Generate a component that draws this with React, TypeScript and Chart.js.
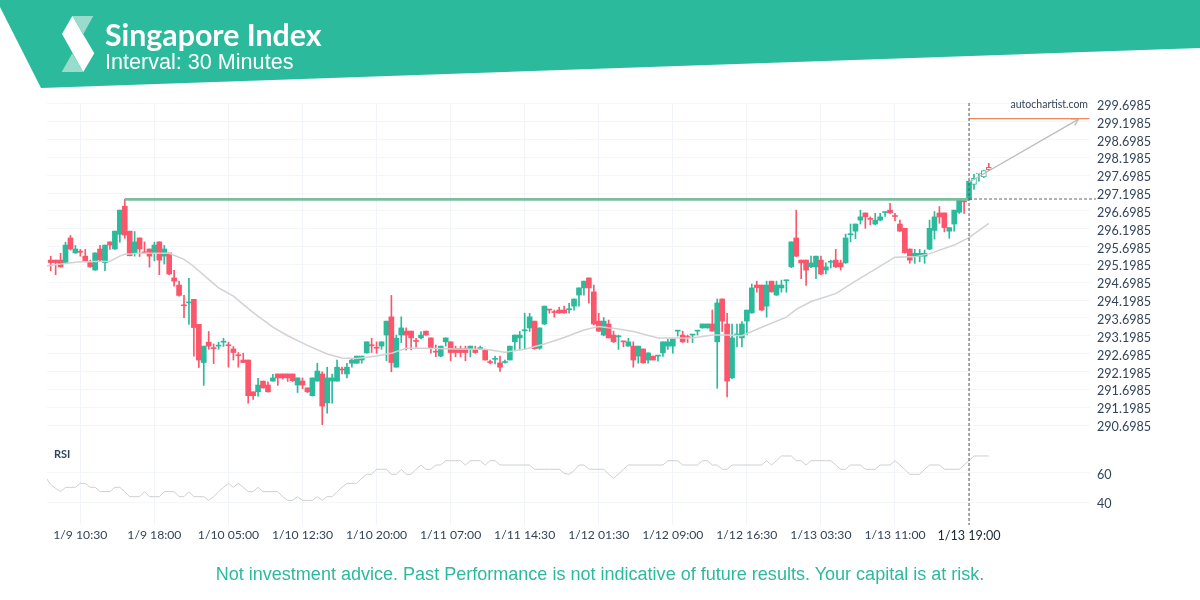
import { useEffect, useRef } from 'react';
import { Chart, registerables } from 'chart.js';

Chart.register(...registerables);

const opens = [
  295.32,295.32,295.32,295.25,295.94,295.52,295.56,295.43,295.25,295.04,
  295.63,295.25,295.83,295.63,296.04,296.83,296.13,295.51,295.94,295.55,
  295.63,295.52,295.83,295.43,295.52,294.82,294.62,294.06,294.12,294.22,
  293.52,292.45,293.02,292.86,292.91,293.02,292.94,292.83,292.66,292.52,
  292.52,291.63,291.63,291.93,291.82,291.93,292.13,292.13,292.13,292.13,
  291.82,291.93,291.74,291.52,291.93,292.13,291.32,291.93,291.93,292.26,
  292.13,292.43,292.43,292.52,292.72,292.94,292.87,292.91,293.22,293.73,
  292.32,293.22,293.33,293.33,293.06,293.14,293.33,293.14,292.75,292.63,
  293.03,293.03,292.84,292.84,292.84,292.84,292.81,292.84,292.81,292.47,
  292.54,292.44,292.45,292.52,293.03,293.14,293.34,293.42,293.61,292.85,
  293.53,293.94,293.87,293.92,293.92,293.93,294.03,294.34,294.54,294.82,
  294.43,293.61,293.22,293.53,293.22,293.17,293.04,292.91,292.91,292.63,
  292.83,292.52,292.63,292.63,292.72,292.91,292.91,293.33,293.22,293.17,
  293.22,293.33,293.42,293.42,293.53,293.03,294.23,293.53,292.02,293.22,
  293.14,293.61,293.84,294.62,294.62,294.03,294.73,294.34,294.54,294.74,
  295.13,295.94,295.32,295.32,295.13,295.13,295.32,295.04,295.26,295.32,
  295.24,295.24,296.03,296.13,296.44,296.64,296.48,296.33,296.44,296.65,
  296.72,296.55,296.33,296.21,295.63,295.43,295.43,295.43,295.63,296.15,
  296.64,296.64,296.13,296.33,296.66,296.97,297.01,297.44,297.73,297.65,297.92,
];
const closes = [
  295.25,295.25,295.13,295.74,295.63,295.63,295.54,295.28,295.13,295.52,
  295.32,295.74,295.74,296.13,296.72,296.02,295.44,295.83,295.63,295.52,
  295.43,295.74,295.32,295.63,294.93,294.73,294.33,294.04,294.14,293.43,
  292.52,292.91,292.91,292.84,292.93,293.04,292.92,292.73,292.64,292.45,
  291.52,291.52,291.82,291.74,291.63,292.02,292.02,292.02,292.02,291.94,
  292.02,291.82,291.63,292.02,292.21,291.23,292.02,292.02,292.32,292.24,
  292.32,292.52,292.63,292.63,293.03,292.92,292.85,293.03,293.61,292.45,
  293.13,293.42,293.22,293.14,293.04,293.22,293.22,292.84,292.74,292.91,
  293.14,292.73,292.73,292.73,292.73,292.91,292.73,292.86,292.52,292.45,
  292.56,292.32,292.47,292.91,293.22,293.22,293.36,293.73,292.84,293.42,
  294.03,293.92,293.85,293.84,293.84,293.95,294.23,294.54,294.73,294.54,
  293.53,293.33,293.61,293.14,293.03,293.18,293.03,293.03,292.52,292.91,
  292.44,292.72,292.52,292.65,293.03,293.03,293.11,293.35,293.03,293.15,
  293.24,293.35,293.53,293.53,293.33,294.12,293.61,291.93,293.14,293.24,
  293.53,293.92,294.54,294.55,293.92,294.62,294.43,294.62,294.62,294.76,
  295.83,295.43,295.24,295.04,295.24,295.43,294.93,295.13,295.28,295.13,
  295.13,295.94,296.05,296.33,296.53,296.53,296.46,296.44,296.53,296.67,
  296.64,296.54,296.13,295.53,295.32,295.51,295.51,295.51,296.21,296.53,
  296.53,296.23,296.23,296.72,297.03,296.95,297.53,297.61,297.75,297.83,297.85,
];
const highs = [
  295.43,295.32,295.51,295.82,296.01,295.73,295.62,295.62,295.32,295.52,
  295.73,295.74,295.83,296.13,296.72,297.02,296.13,296.12,295.94,295.83,
  295.63,295.82,295.83,295.73,295.52,295.03,294.73,294.33,294.81,294.22,
  293.52,292.91,293.32,292.97,293.02,293.13,293.02,292.90,292.73,292.71,
  292.52,291.63,292.01,291.93,291.91,292.12,292.13,292.13,292.13,292.13,
  292.02,292.02,291.74,292.02,292.43,292.19,292.32,292.13,292.52,292.32,
  292.43,292.54,292.63,292.63,293.03,293.13,293.03,293.03,293.61,294.33,
  293.22,293.73,293.42,293.33,293.13,293.32,293.33,293.14,292.94,292.91,
  293.14,293.03,292.91,292.91,292.91,292.91,292.91,292.91,292.82,292.52,
  292.63,292.63,292.52,292.91,293.22,293.32,293.83,293.83,293.61,293.42,
  294.03,293.94,293.92,294.00,294.03,294.11,294.23,294.54,294.73,294.82,
  294.62,293.83,293.71,293.64,293.33,293.22,293.04,293.13,293.03,292.91,
  292.83,292.72,292.63,292.65,293.03,293.11,293.11,293.35,293.33,293.22,
  293.24,293.35,293.53,293.53,293.92,294.23,294.23,293.83,293.53,293.53,
  293.60,293.92,294.65,294.73,294.62,294.73,294.73,294.73,294.76,294.76,
  295.83,296.72,295.32,295.32,295.43,295.43,295.43,295.24,295.32,295.62,
  295.32,296.05,296.33,296.33,296.72,296.64,296.53,296.63,296.63,296.67,
  296.91,296.63,296.44,296.21,295.63,295.62,295.62,295.60,296.44,296.68,
  296.82,296.64,296.23,296.72,297.03,297.03,297.53,297.72,297.75,297.83,298.03,
];
const lows = [
  295.02,294.91,295.12,295.23,295.60,295.51,295.43,295.27,295.12,295.04,
  295.30,295.02,295.62,295.62,295.82,295.93,295.44,295.43,295.42,295.51,
  295.12,295.30,294.91,295.21,294.91,294.59,294.31,293.71,293.52,292.63,
  292.31,291.81,292.82,292.42,292.82,292.90,292.32,292.52,292.32,292.45,
  291.31,291.42,291.51,291.73,291.62,291.93,291.81,291.99,291.92,291.92,
  291.61,291.72,291.61,291.51,291.93,290.71,291.03,291.31,291.93,292.13,
  292.02,292.32,292.43,292.43,292.71,292.73,292.71,292.82,292.50,292.19,
  292.32,293.01,292.80,292.80,292.88,293.11,293.21,292.71,292.61,292.61,
  292.91,292.50,292.61,292.61,292.50,292.61,292.71,292.82,292.52,292.41,
  292.41,292.20,292.43,292.52,292.80,292.82,292.82,293.32,292.82,292.82,
  293.51,293.83,293.72,293.83,293.83,293.83,293.92,294.03,294.34,294.11,
  293.50,293.32,293.20,293.14,293.01,292.82,292.89,292.91,292.32,292.43,
  292.43,292.43,292.52,292.49,292.62,292.82,292.71,293.19,293.01,293.01,
  293.01,293.22,293.41,293.41,293.33,291.73,293.32,291.49,292.00,292.89,
  292.89,293.22,293.83,294.42,293.90,293.72,294.42,294.33,294.42,294.42,
  295.11,295.42,294.80,294.61,295.11,294.80,294.91,294.93,295.10,295.11,
  295.04,295.23,295.83,295.92,296.33,296.21,296.31,296.31,296.42,296.54,
  296.63,296.42,296.12,295.51,295.23,295.23,295.27,295.23,295.61,295.91,
  296.35,296.11,295.93,296.13,296.63,296.63,297.01,297.30,297.53,297.63,297.83,
];

// first value belongs to the bar just left of the plot, cut off by the edge
const rsiValues = [
  56.8,
  52.1,49.4,47.2,50.1,50.1,50.1,52.8,52.8,50.1,50.1,
  47.2,47.2,47.2,50.1,50.1,47.2,43.8,43.8,43.8,47.2,
  43.8,43.8,43.8,47.2,47.2,47.2,43.8,43.8,47.2,43.8,
  43.8,43.8,41.3,43.8,47.2,50.1,52.8,50.1,52.8,50.1,
  47.2,47.2,50.1,47.2,47.2,47.2,47.2,43.8,41.3,41.3,
  43.8,41.3,41.3,41.3,43.8,41.3,43.8,43.8,47.2,50.1,
  52.8,52.8,52.8,56.2,58.9,58.9,62.3,62.3,62.3,58.9,
  58.9,62.3,58.9,58.9,62.3,65.2,62.3,62.3,65.2,65.2,
  68.1,68.1,68.1,68.1,65.2,68.1,68.1,68.1,65.2,68.1,
  68.1,65.2,65.2,65.2,65.2,65.2,65.2,65.2,62.3,62.3,
  62.3,62.3,62.3,62.3,59.5,58.9,61.4,65.2,65.2,62.5,
  62.3,62.3,62.3,59.1,56.2,59.1,62.3,65.2,65.2,65.2,
  65.2,65.2,65.2,65.2,65.2,68.1,68.1,68.1,65.2,65.2,
  65.2,65.2,68.1,68.1,65.2,65.2,62.3,62.3,65.2,65.2,
  65.2,65.2,65.2,65.2,65.2,68.1,65.2,68.1,71.3,71.3,
  71.3,68.1,68.1,65.2,68.1,68.1,68.1,68.1,68.1,65.2,
  62.3,62.3,65.2,65.2,65.2,62.3,62.3,62.3,65.2,65.2,
  65.2,68.1,65.2,62.3,58.9,58.9,58.9,62.3,65.2,65.2,
  65.2,62.3,62.3,62.3,62.3,65.2,68.1,71.3,71.3,71.3,71.3,
];

const maBars = [
  -1,2,6,12,14,15,18,24,27,29,32,34,37,39,41,45,48,52,56,59,62,66,69,72,76,82,88,92,96,100,
  104,108,111,115,118,123,130,134,137,140,144,149,151,154,159,163,171,175,178,183,186,190,
];
const maValues = [
  295.15,295.21,295.27,295.29,295.43,295.48,295.51,295.51,295.34,295.14,294.78,294.54,294.31,294.08,293.85,
  293.44,293.20,292.93,292.69,292.58,292.56,292.63,292.71,292.85,292.85,292.83,292.82,292.74,292.82,292.97,
  293.15,293.36,293.46,293.39,293.32,293.14,293.14,293.22,293.22,293.20,293.44,293.72,293.94,294.16,294.38,
  294.73,295.40,295.41,295.50,295.74,295.95,296.35,
];

const xTickBars = [6, 21, 36, 51, 66, 81, 96, 111, 126, 141, 156, 171, 186];
const xTickLabels = [
  '1/9 10:30', '1/9 18:00', '1/10 05:00', '1/10 12:30', '1/10 20:00', '1/11 07:00', '1/11 14:30',
  '1/12 01:30', '1/12 09:00', '1/12 16:30', '1/13 03:30', '1/13 11:00', '1/13 19:00',
];
const priceTicks = [
  299.6985, 299.1985, 298.6985, 298.1985, 297.6985, 297.1985, 296.6985, 296.1985, 295.6985, 295.1985,
  294.6985, 294.1985, 293.6985, 293.1985, 292.6985, 292.1985, 291.6985, 291.1985, 290.6985,
];
const rsiTicks = [60, 40];

// pattern overlays, as [bar, price]
const breakoutBar = 186;
const supportLine = [[15, 297.02], [186, 297.02]];
const levelLine = [[186, 297.03], [211.7, 297.03]];
const targetLine = [[186, 299.28], [210.4, 299.28]];
const arrowLine = [[186, 297.5], [208.2, 299.27]];
const arrowHead = [[206.6, 299.27], [208.2, 299.27], [207.4, 299.09]];

const GREEN = '#2cba9c';
const RED = '#fb566c';
const TEXT = '#33445a';

const points = (rows: number[][]) => rows.map(([x, y]) => ({ x, y }));
const isUp = (i: number) => closes[i] >= opens[i];

const App = () => {
  const canvasRef = useRef<HTMLCanvasElement>(null);

  useEffect(() => {
    if (!canvasRef.current) return;

    const crosshair = {
      id: 'crosshair',
      afterDatasetsDraw(chart: Chart) {
        const { ctx, chartArea, scales } = chart;
        const x = scales.x.getPixelForValue(breakoutBar);
        ctx.save();
        ctx.strokeStyle = '#555';
        ctx.lineWidth = 1;
        ctx.setLineDash([3, 2]);
        ctx.beginPath();
        ctx.moveTo(x, chartArea.top);
        ctx.lineTo(x, chartArea.bottom);
        ctx.stroke();
        ctx.restore();
      },
    };

    const overlay = (data: number[][], color: string, width: number, extra = {}) => ({
      type: 'line' as const,
      data: points(data),
      borderColor: color,
      borderWidth: width,
      pointRadius: 0,
      yAxisID: 'y',
      order: 1,
      ...extra,
    });

    const chart = new Chart(canvasRef.current, {
      type: 'bar',
      data: {
        datasets: [
          {
            data: opens.map((_, i) => ({ x: i, y: [lows[i], highs[i]] })),
            backgroundColor: opens.map((_, i) => (isUp(i) ? GREEN : RED)),
            barThickness: 1,
            grouped: false,
            yAxisID: 'y',
            order: 5,
          },
          {
            data: opens.map((o, i) => ({ x: i, y: [o, closes[i]] })),
            backgroundColor: opens.map((_, i) => (i > breakoutBar ? '#fff' : isUp(i) ? GREEN : RED)),
            borderColor: opens.map((_, i) => (isUp(i) ? GREEN : RED)),
            borderWidth: opens.map((_, i) => (i > breakoutBar ? 1 : 0)),
            borderSkipped: false,
            barThickness: 5,
            minBarLength: 1,
            grouped: false,
            yAxisID: 'y',
            order: 4,
          },
          overlay(supportLine, '#7cbd9c', 2.6, { order: 3 }),
          {
            type: 'line',
            data: maBars.map((x, i) => ({ x, y: maValues[i] })),
            borderColor: '#d2d2d2',
            borderWidth: 1.5,
            pointRadius: 0,
            yAxisID: 'y',
            order: 2,
          },
          {
            type: 'line',
            data: rsiValues.map((y, i) => ({ x: i - 1, y })),
            borderColor: '#cfcfcf',
            borderWidth: 1,
            pointRadius: 0,
            yAxisID: 'rsi',
            order: 2,
          },
          overlay(levelLine, '#666', 1, { borderDash: [3, 2], clip: false }),
          overlay(targetLine, '#ef8a5a', 1.2),
          overlay(arrowLine, '#bdbdbd', 1.4),
          overlay(arrowHead, '#bdbdbd', 1.4),
        ],
      },
      options: {
        responsive: false,
        animation: false,
        events: [],
        layout: { padding: { left: 47, top: 103, right: 0, bottom: 25 } },
        plugins: { legend: { display: false }, tooltip: { enabled: false } },
        scales: {
          x: {
            type: 'linear',
            min: -0.75,
            max: 210.5,
            offset: false,
            afterBuildTicks: (scale) => {
              scale.ticks = xTickBars.map((value) => ({ value }));
            },
            afterFit: (scale) => {
              scale.height = 50;
            },
            grid: { color: '#f1f4f9', drawTicks: false, offset: false },
            border: { display: false },
            ticks: {
              autoSkip: false,
              maxRotation: 0,
              padding: 3,
              color: (ctx) => (ctx.index === 12 ? '#1b2836' : TEXT),
              font: (ctx) => ({ family: 'Lato', size: ctx.index === 12 ? 12.6 : 12.2 }),
              callback: (_, index) => xTickLabels[index],
            },
          },
          y: {
            position: 'right',
            stack: 'panes',
            stackWeight: 338,
            min: 290.252,
            max: 299.72,
            afterBuildTicks: (scale) => {
              scale.ticks = priceTicks.map((value) => ({ value }));
            },
            afterFit: (scale) => {
              scale.width = 110;
            },
            grid: { color: '#f4f6fa', drawTicks: false },
            border: { display: false },
            ticks: {
              autoSkip: false,
              padding: 7,
              labelOffset: 2,
              color: TEXT,
              font: { family: 'Lato', size: 12.6 },
              callback: (v) => Number(v).toFixed(4),
            },
          },
          rsi: {
            position: 'right',
            stack: 'panes',
            stackWeight: 84,
            min: 24.66,
            max: 81.42,
            afterBuildTicks: (scale) => {
              scale.ticks = rsiTicks.map((value) => ({ value }));
            },
            afterFit: (scale) => {
              scale.width = 110;
            },
            grid: { color: '#f4f6fa', drawTicks: false },
            border: { display: false },
            ticks: {
              autoSkip: false,
              padding: 7,
              labelOffset: 2,
              color: TEXT,
              font: { family: 'Lato', size: 12.6 },
            },
          },
        },
      },
      plugins: [crosshair],
    });

    return () => chart.destroy();
  }, []);

  return (
    <div style={{ position: 'absolute', left: 0, top: 0, width: 1200, height: 600, overflow: 'hidden', background: '#fff' }}>
      <canvas ref={canvasRef} width={1200} height={600} style={{ position: 'absolute', left: 0, top: 0 }} />
      <svg width={1200} height={100} style={{ position: 'absolute', left: 0, top: 0 }}>
        <polygon points="0,0 1200,0 1200,48 41,88 0,7" fill={GREEN} />
        <polygon points="72.3,16 93.3,16 83.3,34" fill="#9adccb" />
        <polygon points="72.3,53.3 61.7,72 83.3,72" fill="#9adccb" />
        <polygon points="62,34 72.3,16 94.3,53.3 83.3,72" fill="#fff" />
      </svg>
      <div style={{ position: 'absolute', left: 105, top: 16, font: 'bold 30.3px Lato', color: '#fff', lineHeight: '36px', whiteSpace: 'nowrap' }}>
        Singapore Index
      </div>
      <div style={{ position: 'absolute', left: 105, top: 49, font: '21.6px "Liberation Sans"', color: '#fff', lineHeight: '26px', whiteSpace: 'nowrap' }}>
        Interval: 30 Minutes
      </div>
      <div style={{ position: 'absolute', right: 112, top: 97, font: '10.5px Lato', color: TEXT, lineHeight: '14px' }}>
        autochartist.com
      </div>
      <div style={{ position: 'absolute', left: 54, top: 447, font: 'bold 11px Lato', color: TEXT, lineHeight: '14px' }}>
        RSI
      </div>
      <div style={{ position: 'absolute', left: 0, width: 1200, top: 563, textAlign: 'center', font: '18.05px "Liberation Sans"', color: GREEN, lineHeight: '22px' }}>
        Not investment advice. Past Performance is not indicative of future results. Your capital is at risk.
      </div>
    </div>
  );
};

export default App;
